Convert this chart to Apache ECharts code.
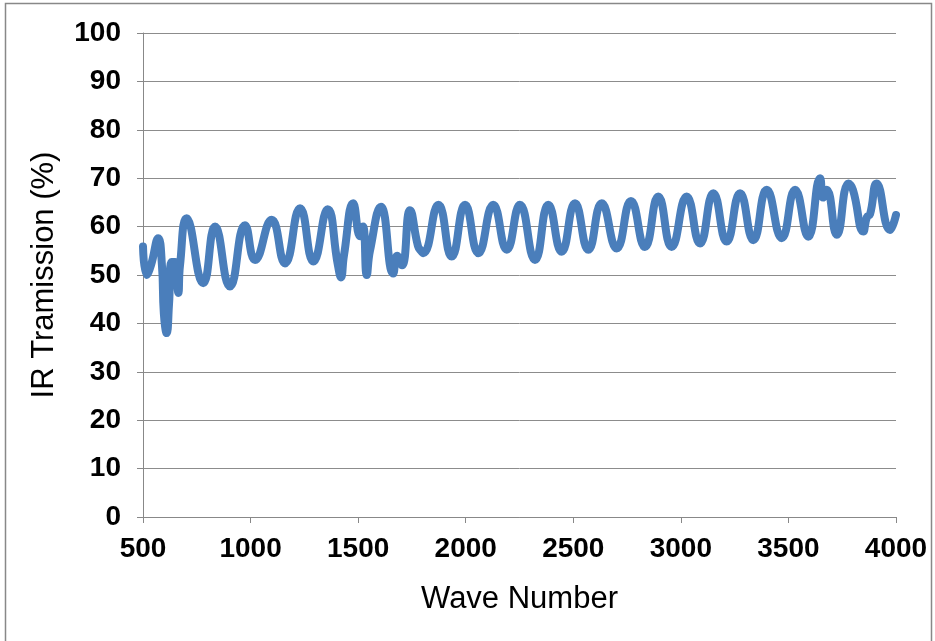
<!DOCTYPE html>
<html>
<head>
<meta charset="utf-8">
<script src="https://cdn.jsdelivr.net/npm/echarts@6/dist/echarts.min.js"></script>
<style>
html,body{margin:0;padding:0;background:#fff;}
#c{width:935px;height:641px;}
</style>
</head>
<body>
<div id="c"></div>
<script>
// Wave numbers (at peaks, troughs and kinks)
const waveNumbers = [500,517,537,571,588,597,610,621,633,649,664,672,703,780,835,904,974,1021,1098,1160,1230,1292,1358,1406,1420,1434,1477,1509,1523,1540,1555,1606,1663,1681,1704,1741,1778,1792,1803,1873,1935,1997,2059,2128,2191,2252,2322,2384,2446,2508,2570,2632,2702,2768,2833,2895,2957,3027,3089,3151,3213,3275,3337,3399,3469,3531,3592,3647,3661,3678,3725,3779,3800,3848,3865,3879,3910,3972,4000];
// IR transmission (%)
const transmission = [55.9,50,52,57.6,52,42,38,44,52.7,52.7,46.3,52,61.7,48.3,60,47.6,60.3,53.1,61.4,52.4,63.8,52.8,63.6,52,49.5,54,64.8,58,60,50,55,64.1,50.3,54,52,63.4,56,55,54.5,64.5,53.8,64.5,54.5,64.5,55.2,64.5,53.1,64.5,54.8,64.8,55.2,64.8,55.5,65.3,55.8,66.2,55.8,66.2,56.5,66.9,56.9,66.9,57.2,67.6,57.6,67.6,57.9,70,66,67.6,58.3,68.9,67.6,59,62,62.5,68.9,59.3,62.4];
const xTicks = [500,1000,1500,2000,2500,3000,3500,4000];
const yTicks = [0,10,20,30,40,50,60,70,80,90,100];

const data = waveNumbers.map((w,i)=>[w, transmission[i]]);
const chart = echarts.init(document.getElementById('c'), null, {renderer:'canvas'});
const lbl = {fontFamily:'Liberation Sans, Arial, sans-serif', fontWeight:'bold', fontSize:28, color:'#000'};
chart.setOption({
  animation:false,
  backgroundColor:'#fff',
  graphic:[{type:'rect', shape:{x:5.5,y:3.5,width:926,height:660}, style:{fill:'none', stroke:'#888', lineWidth:1.5}}],
  grid:{left:143, right:39, top:33, bottom:124, containLabel:false},
  xAxis:{
    type:'value', min:500, max:4000, interval:500,
    name:'Wave Number', nameLocation:'middle', nameGap:67,
    nameTextStyle:{fontFamily:'Liberation Sans, Arial, sans-serif', fontSize:31, color:'#000'},
    axisLine:{show:true, lineStyle:{color:'#888', width:1}},
    axisTick:{show:true, length:6, inside:false, lineStyle:{color:'#888'}},
    axisLabel:Object.assign({margin:18, formatter:v=>xTicks.includes(v)?String(v):''}, lbl),
    splitLine:{show:false}
  },
  yAxis:{
    type:'value', min:0, max:100, interval:10,
    name:'IR Tramission (%)', nameLocation:'middle', nameGap:83, nameRotate:90,
    nameTextStyle:{fontFamily:'Liberation Sans, Arial, sans-serif', fontSize:31, color:'#000'},
    axisLine:{show:true, lineStyle:{color:'#888', width:1}},
    axisTick:{show:true, length:6, lineStyle:{color:'#888'}},
    axisLabel:Object.assign({margin:22, formatter:v=>yTicks.includes(v)?String(v):''}, lbl),
    splitLine:{show:true, lineStyle:{color:'#8c8c8c', width:1}}
  },
  series:[{
    type:'line', data:data, smooth:0.5,
    showSymbol:false, symbol:'circle', symbolSize:8,
    lineStyle:{color:'#4a7ebb', width:8, cap:'round', join:'round'},
    itemStyle:{color:'#4a7ebb'}
  }]
});
</script>
</body>
</html>
